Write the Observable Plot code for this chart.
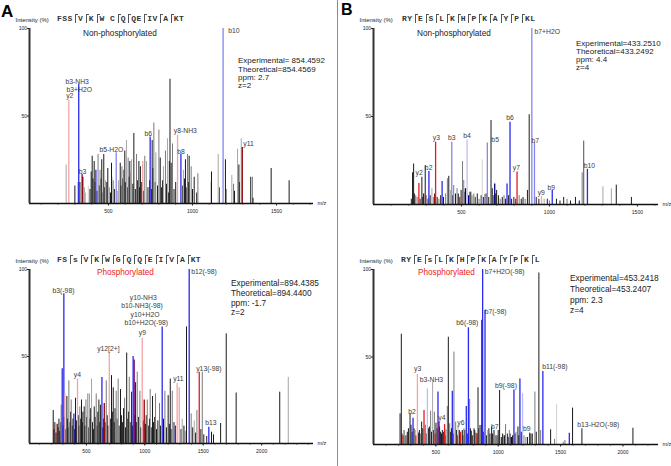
<!DOCTYPE html>
<html><head><meta charset="utf-8">
<script src="https://cdn.jsdelivr.net/npm/d3@7"></script>
<script src="https://cdn.jsdelivr.net/npm/@observablehq/plot@0.6"></script>
<style>
body{margin:0;background:#fff;}
#wrap{position:relative;width:671px;height:466px;background:#fff;overflow:hidden;font-family:"Liberation Sans",Arial,sans-serif;}
.t{position:absolute;white-space:nowrap;line-height:1;color:#222;}
.seq{position:absolute;white-space:nowrap;font-family:"Liberation Mono","DejaVu Sans Mono",monospace;font-weight:bold;font-size:8px;letter-spacing:0.4px;line-height:9px;color:#333;}
.mk{display:inline-block;width:3px;height:9px;border-left:1px solid #555;border-top:1px solid #555;margin-left:2.5px;vertical-align:middle;box-sizing:border-box;}
</style></head>
<body><div id="wrap"></div>
<script>
// ---------- DATA ----------
const colorCodes = ["k","d","g","l","w","B","b","v","R","r","D","P","N"];
const colorHex   = ["#1a1a1a","#4d4d4d","#7a7a7a","#a6a6a6","#d2d2d2","#2a2aee","#8585f0","#bdbdf6","#e01e1e","#f4a3a3","#8b0000","#7a007a","#00007a"];

// Panel A, non-phosphorylated: [m/z, intensity %, colour code]
const peaksA1 = [
[248,22,"l"],[264,59,"r"],[320,12,"d"],[323,68,"B"],[343,16.6,"P"],[347,15,"D"],[357,9,"l"],
[397,18,"k"],[403,27,"k"],[415,24,"k"],[425,19,"B"],[438,28,"g"],[450,19,"g"],[460,25,"k"],[472,28,"k"],[482,13,"l"],[496,20,"k"],[506,9,"l"],[518,23,"k"],[528,13,"g"],[546,29,"b"],[560,13,"l"],[570,23,"k"],[580,21,"g"],[590,19,"g"],[597,30,"k"],[607,36,"l"],[617,26,"g"],[627,24,"k"],[637,25,"l"],[651,40,"k"],[667,28,"g"],[681,24,"k"],[690,21,"k"],[704,24,"r"],[716,27,"g"],[726,24,"l"],[748,38,"B"],[760,36,"k"],[770,46,"g"],[782,29,"l"],[800,42,"g"],[808,26,"k"],[827,21,"l"],[839,30,"g"],[851,37,"l"],[866,71,"k"],[873,23,"k"],[881,34,"g"],[911,39,"r"],[931,28,"B"],[946,19,"l"],[958,25,"k"],[970,28,"g"],[980,27,"k"],[992,21,"g"],[1032,17,"g"],[1113,18,"k"],[1153,28,"l"],[1182,100,"b"],[1196,25,"k"],[1234,16,"l"],[1244,11,"g"],[1268,31,"l"],[1276,22,"k"],[1290,37,"l"],[1296,32,"D"],[1345,15,"d"],[1355,15,"d"],[1360,3,"k"],[1468,20,"k"],[1575,13,"k"]
];
const smallA1 = [
[300,10,"k"],[330,12,"k"],[362,6,"l"],[380,10,"w"],[390,8,"k"],[408,14,"k"],[420,12,"d"],[432,7,"k"],[445,10,"k"],[455,14,"k"],[465,6,"l"],[478,9,"k"],[490,12,"k"],[512,6,"k"],[523,15,"w"],[535,8,"k"],[552,7,"l"],[575,10,"k"],[585,14,"k"],[600,12,"k"],[612,9,"k"],[622,15,"k"],[632,18,"w"],[645,11,"k"],[660,8,"k"],[672,13,"k"],[685,9,"k"],[698,12,"k"],[708,7,"k"],[735,9,"k"],[745,13,"k"],[755,8,"k"],[765,20,"k"],[778,12,"k"],[792,10,"k"],[815,9,"k"],[822,13,"k"],[845,11,"k"],[856,6,"k"],[862,24,"k"],[890,8,"k"],[900,12,"k"],[942,10,"k"],[952,14,"k"],[962,9,"k"],[975,12,"k"],[1000,8,"k"],[1010,15,"k"],[1025,6,"k"],[1112,12,"k"],[1160,9,"d"],[1200,8,"d"],[1250,7,"k"],[1280,12,"d"]
];
const labelsA1 = [
["y2",248,61.7],["b3-NH3",244,69.7],["b3+H2O",250,65.1],["b10",1212,98.5],["b3",323,18.3],["b5-H2O",446,30.7],["b6",714,39.8],["y8-NH3",889,41.3],["b8",909,29.5],["y11",1302,34.1]
];

// Panel A, phosphorylated
const peaksA2 = [
[216,19,"k"],[250,11,"D"],[284,22,"g"],[293,43,"B"],[307,86,"B"],[316,28.5,"r"],[333,27,"k"],[350,36,"g"],[370,25,"g"],[393,17,"B"],[407,26,"k"],[424,37,"r"],[444,21,"g"],[458,25,"k"],[481,21,"k"],[496,25,"g"],[510,28.5,"l"],[524,28.5,"g"],[544,37,"l"],[567,21,"k"],[584,28.5,"g"],[607,25,"k"],[633,38,"B"],[653,23,"D"],[670,36,"g"],[696,52,"r"],[715,39,"k"],[730,32,"k"],[755,30,"g"],[772,37,"g"],[792,31,"k"],[827,26,"g"],[845,52,"k"],[867,38,"g"],[887,29.5,"k"],[900,50,"B"],[909,48,"P"],[921,35,"k"],[935,41,"g"],[958,30,"g"],[978,60.5,"r"],[995,25,"D"],[1021,25,"g"],[1046,31,"g"],[1066,27,"k"],[1092,28.5,"g"],[1126,23,"g"],[1149,67,"B"],[1172,30,"g"],[1200,27.5,"k"],[1218,37,"k"],[1235,30,"g"],[1277,34.5,"r"],[1295,32,"r"],[1320,14,"l"],[1357,67,"k"],[1380,100,"B"],[1397,17,"g"],[1423,13,"l"],[1446,19,"g"],[1466,41,"R"],[1492,41,"g"],[1548,9.4,"B"],[1571,6.5,"k"],[1649,11.5,"k"],[1697,63,"k"],[1782,29,"k"],[2155,29.5,"k"],[2228,38,"l"]
];
const smallA2 = [
[222,8,"k"],[230,12,"k"],[240,6,"k"],[258,9,"k"],[265,14,"k"],[272,7,"k"],[280,12,"d"],[300,10,"k"],[310,15,"k"],[322,8,"k"],[340,14,"k"],[345,9,"k"],[360,12,"k"],[365,18,"k"],[378,10,"k"],[385,14,"k"],[398,8,"k"],[415,13,"k"],[430,16,"k"],[437,10,"k"],[450,14,"k"],[465,12,"k"],[470,18,"k"],[488,10,"k"],[503,15,"k"],[516,9,"k"],[530,14,"k"],[537,20,"k"],[552,12,"k"],[560,8,"k"],[575,15,"k"],[590,10,"k"],[598,18,"k"],[615,12,"k"],[620,22,"k"],[640,9,"k"],[648,14,"k"],[660,12,"k"],[678,16,"k"],[685,10,"k"],[705,14,"k"],[722,18,"k"],[738,12,"k"],[745,20,"k"],[762,14,"k"],[780,10,"k"],[800,16,"k"],[810,12,"k"],[818,20,"k"],[835,9,"k"],[855,14,"k"],[860,18,"k"],[875,12,"k"],[895,10,"k"],[915,16,"k"],[928,12,"k"],[945,15,"k"],[965,9,"k"],[985,13,"k"],[1005,11,"k"],[1012,16,"k"],[1030,10,"k"],[1040,14,"k"],[1055,9,"k"],[1075,12,"k"],[1085,15,"k"],[1100,8,"k"],[1112,13,"k"],[1135,10,"k"],[1160,14,"k"],[1185,9,"k"],[1210,11,"k"],[1225,8,"k"],[1250,12,"k"],[1262,10,"B"],[1310,8,"k"],[1335,10,"k"],[1345,7,"g"],[1410,9,"k"],[1435,6,"k"],[1480,8,"k"],[1505,5,"k"],[1530,4,"k"],[1588,5,"k"]
];
const labelsA2 = [
["b3(-98)",210,88],["b12(-98)",1397,98.9],["y10-NH3",872,84],["b10-NH3(-98)",798,78.9],["y10+H2O",878,74.1],["b10+H2O(-98)",826,69.1],["y9",949,63.4],["y12[2+]",592,54.4],["y4",392,39.7],["y11",1243,37.2],["y13(-98)",1440,42.9],["b13",1517,11.7]
];

// Panel B, non-phosphorylated
const peaksB1 = [
[222,18,"k"],[228,23,"k"],[240,5,"g"],[258,12,"R"],[275,15.5,"k"],[285,6,"D"],[294,22,"k"],[315,18.75,"B"],[332,9,"l"],[353,35.4,"R"],[390,13,"B"],[420,14.6,"g"],[428,16,"k"],[437,8,"l"],[445,35.4,"b"],[456,10.8,"g"],[466,6,"k"],[506,24.4,"g"],[513,13.6,"g"],[523,9,"N"],[532,36.7,"v"],[546,7,"g"],[570,6,"g"],[618,25.4,"w"],[633,5.7,"g"],[647,35,"b"],[668,47.7,"k"],[689,11.7,"N"],[700,8,"k"],[742,5,"g"],[759,11.7,"B"],[776,46.8,"B"],[816,18.4,"R"],[875,8,"k"],[885,51,"k"],[900,100,"b"],[915,35,"b"],[955,4.5,"r"],[970,3,"l"],[1016,8,"B"],[1081,4,"k"],[1148,4,"k"],[1186,18,"g"],[1195,36,"d"],[1216,20,"B"],[1304,10,"l"],[1352,9,"l"],[1380,11,"k"],[1466,4,"k"]
];
const smallB1 = [
[215,3,"k"],[232,6,"k"],[248,4,"g"],[265,3,"k"],[280,4,"k"],[300,5,"g"],[310,3,"k"],[322,5,"k"],[340,4,"g"],[348,6,"D"],[362,4,"k"],[372,3,"g"],[382,5,"k"],[398,4,"k"],[410,6,"g"],[450,5,"k"],[475,9,"g"],[482,6,"k"],[490,4,"R"],[498,8,"k"],[520,7,"k"],[540,5,"N"],[553,7,"k"],[560,5,"g"],[578,4,"k"],[590,6,"k"],[600,3,"g"],[612,5,"k"],[625,4,"B"],[640,6,"k"],[655,4,"k"],[675,9,"k"],[682,5,"g"],[695,6,"k"],[710,5,"k"],[720,3,"g"],[732,4,"k"],[750,3,"k"],[768,5,"k"],[785,3,"k"],[798,4,"k"],[808,3,"R"],[828,5,"g"],[840,3,"k"],[850,4,"k"],[862,3,"g"],[925,4,"k"],[940,3,"k"],[988,3,"k"],[1000,2,"g"],[1040,3,"k"],[1060,2,"k"],[1100,3,"g"],[1120,2,"k"],[1170,2,"B"]
];
const labelsB1 = [
["b7+H2O",915,98.3],["y3",337,37.9],["b3",424,37.9],["b4",510,39.2],["b5",670,36.8],["b6",754,49.3],["b7",898,36.4],["y7",792,20.6],["y9",933,6.8],["b9",989,9.3],["b10",1195,22.2],["y2",239,17.8],["b2",292,20.6]
];

// Panel B, phosphorylated
const peaksB2 = [
[213,17.5,"k"],[223,63,"k"],[237,5,"R"],[253,4,"g"],[271,7,"k"],[293,17.5,"k"],[301,11,"k"],[317,15,"B"],[333,8,"g"],[352,40,"r"],[360,6.5,"k"],[386,12.8,"k"],[405,19.4,"R"],[416,11,"g"],[432,31.8,"v"],[448,10,"k"],[458,19,"g"],[474,35.6,"l"],[488,18.5,"g"],[501,12.2,"k"],[517,30,"B"],[525,12.8,"P"],[538,7,"k"],[552,8,"k"],[570,11.4,"R"],[581,8.4,"g"],[592,21.7,"g"],[600,61.3,"k"],[611,11.8,"g"],[632,30.5,"B"],[645,52.8,"g"],[659,12.8,"g"],[678,10.9,"l"],[688,8,"k"],[699,7,"R"],[712,8,"k"],[725,9,"g"],[744,21.7,"B"],[761,66.7,"B"],[771,25.7,"g"],[784,7.6,"k"],[806,9,"k"],[822,6.5,"R"],[838,32.4,"k"],[851,10.9,"g"],[862,10.9,"k"],[868,71,"k"],[875,100,"B"],[894,76.6,"B"],[918,8,"g"],[934,6,"k"],[947,10,"k"],[966,8,"k"],[979,5,"g"],[1011,30.9,"k"],[1025,4,"k"],[1041,5,"g"],[1059,11.4,"g"],[1073,6,"k"],[1089,8,"g"],[1105,4,"N"],[1126,31.2,"B"],[1142,7,"g"],[1158,10,"k"],[1174,37.5,"B"],[1195,29,"v"],[1206,5,"g"],[1222,4,"g"],[1252,6.5,"k"],[1273,6,"k"],[1294,30,"g"],[1305,7,"k"],[1326,98,"k"],[1340,8,"g"],[1358,41.7,"B"],[1420,8.4,"k"],[1452,3,"g"],[1468,23,"w"],[1521,1.3,"g"],[1535,2.3,"g"],[1570,6.5,"B"],[1596,20.8,"k"],[1671,9,"k"],[2080,9.3,"k"]
];
const smallB2 = [
[228,6,"k"],[245,8,"d"],[260,5,"k"],[280,9,"k"],[310,7,"k"],[325,9,"k"],[340,5,"R"],[368,8,"k"],[378,6,"g"],[395,9,"k"],[422,6,"k"],[440,9,"k"],[465,7,"k"],[480,8,"k"],[495,6,"R"],[510,9,"k"],[530,10,"k"],[545,6,"k"],[560,7,"k"],[575,5,"k"],[618,7,"k"],[625,9,"k"],[640,6,"k"],[665,8,"k"],[672,5,"R"],[695,6,"k"],[718,5,"k"],[732,8,"k"],[752,6,"k"],[778,9,"k"],[792,5,"k"],[812,8,"k"],[830,6,"k"],[845,9,"k"],[880,7,"k"],[905,5,"k"],[925,9,"k"],[955,6,"k"],[990,5,"k"],[1000,8,"k"],[1035,6,"k"],[1050,5,"k"],[1080,4,"k"],[1095,6,"k"],[1115,5,"k"],[1135,6,"k"],[1165,5,"k"],[1185,7,"k"],[1235,4,"k"],[1262,6,"k"]
];
const labelsB2 = [
["b7+H2O(-98)",891,98.5],["b7(-98)",891,75.6],["b6(-98)",664,69.3],["y3",325,43.2],["b3-NH3",370,37],["b11(-98)",1353,44.2],["b9(-98)",974,33.3],["b2",279,18.9],["y4",520,15],["y6",672,12.2],["b7",942,10.3],["b9",1198,9],["b13-H2O(-98)",1634,11.4]
];

const xTicksA1 = [500,1000,1500];
const xTicksA2 = [500,1000,1500,2000];
const xTicksB1 = [500,1000,1500];
const xTicksB2 = [500,1000,1500,2000];

const infoA1 = ["Experimental= 854.4592","Theoretical=854.4569","ppm: 2.7","z=2"];
const infoA2 = ["Experimental=894.4385","Theoretical=894.4400","ppm: -1.7","z=2"];
const infoB1 = ["Experimental=433.2510","Theoretical=433.2492","ppm: 4.4","z=4"];
const infoB2 = ["Experimental=453.2418","Theoretical=453.2407","ppm: 2.3","z=4"];

const seqA1 = "FSS|V|K|W C|Q|QE|IV|A|KT";
const seqA2 = "FS|s|V|K|W|G|Q|Q|E|I|V|A|KT";
const seqB1 = "RY|E|S|L|K|H|P|K|A|Y|P|KL";
const seqB2 = "RY|E|s|L|K|H|P|K|A|Y|P|K|L";

// ---------- DRAW ----------
const wrap = document.getElementById("wrap");
const colored = new Set(["B","b","v","R","r","D","P","N"]);
const rank = c => colored.has(c) ? 1 : 0;
const toObj = a => a.map(([mz,i,c]) => ({mz,i,c}));

function spectrum(o){
  const peaks = toObj(o.small).concat(toObj(o.peaks)).sort((a,b)=>rank(a.c)-rank(b.c));
  const labels = o.labels.map(([t,mz,i])=>({t,mz,i}));
  const minor = d3.range(100, o.xDomain[1], 100);
  const svg = Plot.plot({
    width:o.w, height:o.h, marginLeft:o.mL, marginRight:o.mR, marginTop:o.mT, marginBottom:o.mB,
    x:{domain:o.xDomain}, y:{domain:[0,100]},
    color:{domain:colorCodes, range:colorHex},
    style:{fontFamily:"Liberation Sans, Arial, sans-serif", background:"transparent", overflow:"visible", color:"#222"},
    marks:[
      Plot.ruleX(peaks,{x:"mz", y1:0, y2:"i", stroke:"c", strokeWidth:d=>colored.has(d.c)?1.3:1}),
      Plot.ruleY([0],{stroke:"#111", strokeWidth:1.5}),
      Plot.ruleX([o.xDomain[0]],{y1:0, y2:100, stroke:"#333", strokeWidth:2}),
      Plot.axisY({ticks:[50,100], tickSize:2, tickPadding:0.5, fontSize:5, tickFormat:d=>String(d), label:null}),
      Plot.axisX({ticks:minor, tickSize:1.5, tickFormat:()=>"", label:null}),
      Plot.axisX({ticks:o.xTicks, tickSize:2.5, tickPadding:3, fontSize:5, tickFormat:d=>String(d), label:null}),
      Plot.text(labels,{x:"mz", y:"i", text:"t", textAnchor:"start", lineAnchor:"middle", fontSize:6.8, fill:"#3a3a3a"}),
      Plot.text(["m/z"],{frameAnchor:"bottom-right", text:d=>d, dx:4, textAnchor:"start", lineAnchor:"middle", fontSize:5.5}),
      Plot.text(["Intensity (%)"],{frameAnchor:"top-left", text:d=>d, dx:-14, dy:-8, textAnchor:"start", lineAnchor:"middle", fontSize:6})
    ]
  });
  svg.style.position="absolute"; svg.style.left=o.left+"px"; svg.style.top=o.top+"px";
  wrap.appendChild(svg);
}

spectrum({peaks:peaksA1, small:smallA1, labels:labelsA1, xTicks:xTicksA1, xDomain:[30,1720], left:0, top:0, w:335, h:215, mL:29, mR:22, mT:28, mB:12});
spectrum({peaks:peaksA2, small:smallA2, labels:labelsA2, xTicks:xTicksA2, xDomain:[13,2444], left:0, top:240, w:335, h:215, mL:29, mR:22, mT:29, mB:12});
spectrum({peaks:peaksB1, small:smallB1, labels:labelsB1, xTicks:xTicksB1, xDomain:[0,1620], left:336, top:0, w:335, h:215, mL:37, mR:13, mT:28, mB:11});
spectrum({peaks:peaksB2, small:smallB2, labels:labelsB2, xTicks:xTicksB2, xDomain:[0,2285], left:336, top:240, w:335, h:215, mL:37, mR:13, mT:29, mB:11});

function text(str, left, cy, fs, extra){
  const d = document.createElement("div"); d.className="t"; d.textContent=str;
  d.style.left=left+"px"; d.style.top=(cy-0.47*fs)+"px"; d.style.fontSize=fs+"px";
  if(extra) Object.assign(d.style, extra);
  wrap.appendChild(d); return d;
}
function info(lines, left, cy0, lh, fs){ lines.forEach((s,k)=>text(s,left,cy0+k*lh,fs)); }
function seq(str, left, cy){
  const d = document.createElement("div"); d.className="seq";
  d.style.left=left+"px"; d.style.top=(cy-4.5)+"px";
  str.split("|").forEach((part,k)=>{
    if(k>0){ const m=document.createElement("span"); m.className="mk"; d.appendChild(m); }
    const s=document.createElement("span"); s.textContent=part; d.appendChild(s);
  });
  wrap.appendChild(d);
}

// divider
const div = document.createElement("div");
Object.assign(div.style,{position:"absolute",left:"337px",top:"0px",width:"1.3px",height:"466px",background:"#8c8c8c"});
wrap.appendChild(div);

text("A", 1, 11, 17, {fontWeight:"bold", color:"#000"});
text("B", 341, 10, 16, {fontWeight:"bold", color:"#000"});

text("Non-phosphorylated", 83, 34, 8.2);
text("Non-phosphorylated", 417, 34, 8.2);
text("Phosphorylated", 97, 273, 8.2, {color:"#ee2222"});
text("Phosphorylated", 418, 273, 8.2, {color:"#ee2222"});

info(infoA1, 238, 61, 8.3, 8);
info(infoA2, 231, 283.3, 9.6, 8.3);
info(infoB1, 576, 43.3, 8.3, 8);
info(infoB2, 570, 278.3, 10.6, 8.4);

seq(seqA1, 57, 18);
seq(seqA2, 57, 259);
seq(seqB1, 402, 18);
seq(seqB2, 401, 259);
</script></body></html>
